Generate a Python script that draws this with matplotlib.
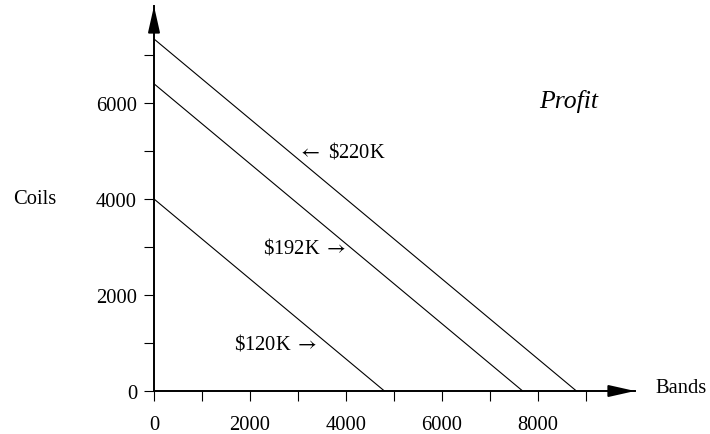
import matplotlib
matplotlib.use("Agg")
import matplotlib.pyplot as plt

# profit per unit: bands $25, coils $30
band_profit = 25
coil_profit = 30
profits = [120000, 192000, 220000]
profit_labels = ["\\$120K $\\rightarrow$", "\\$192K $\\rightarrow$", "$\\leftarrow$ \\$220K"]
label_pos = [(3400, 1000), (4000, 3000), (3000, 5000)]
label_ha = ["right", "right", "left"]

x_ticks = list(range(0, 10000, 1000))
x_ticklabels = ["0", "", "2000", "", "4000", "", "6000", "", "8000", ""]
y_ticks = list(range(0, 8000, 1000))
y_ticklabels = ["0", "", "2000", "", "4000", "", "6000", ""]

plt.rcParams['font.family'] = ['Liberation Serif', 'DejaVu Serif']
plt.rcParams['mathtext.fontset'] = 'stix'
FS = 14.8

fig = plt.figure(figsize=(7.1, 4.35), dpi=100)
W, H = 710, 435
x_max, y_max = 10020, 8020
ax = fig.add_axes([154 / W, 43 / H, 481 / W, 385 / H])
ax.set_xlim(0, x_max)
ax.set_ylim(0, y_max)

for p in profits:
    ax.plot([0, p / band_profit], [p / coil_profit, 0], color="black", lw=0.8)

for txt, (x, y), ha in zip(profit_labels, label_pos, label_ha):
    ax.text(x, y, txt, ha=ha, va="center", fontsize=FS)

for s in ["top", "right"]:
    ax.spines[s].set_visible(False)
for s in ["left", "bottom"]:
    ax.spines[s].set_linewidth(1.4)

ax.set_xticks(x_ticks)
ax.set_xticklabels(x_ticklabels)
ax.set_yticks(y_ticks)
ax.set_yticklabels(y_ticklabels)
ax.tick_params(direction="out", length=7.2, width=0.8, labelsize=FS)
ax.tick_params(axis="x", pad=10)
ax.tick_params(axis="y", pad=5)

# arrow heads
for end, start in [((x_max, 0), (x_max - 500, 0)), ((0, y_max), (0, y_max - 500))]:
    ax.annotate("", xy=end, xytext=start,
                arrowprops=dict(arrowstyle="-|>,head_length=0.8,head_width=0.18",
                                mutation_scale=20, color="black", lw=1.4,
                                shrinkA=0, shrinkB=0), annotation_clip=False)

ax.text(-2937, 4000, "Coils", ha="left", va="center", fontsize=FS)
ax.text(10437, 80, "Bands", ha="left", va="center", fontsize=FS)
ax.text(8635, 6050, "Profit", ha="center", va="center", fontsize=18.5,
        style="italic")

fig.savefig("out.png", dpi=100)
